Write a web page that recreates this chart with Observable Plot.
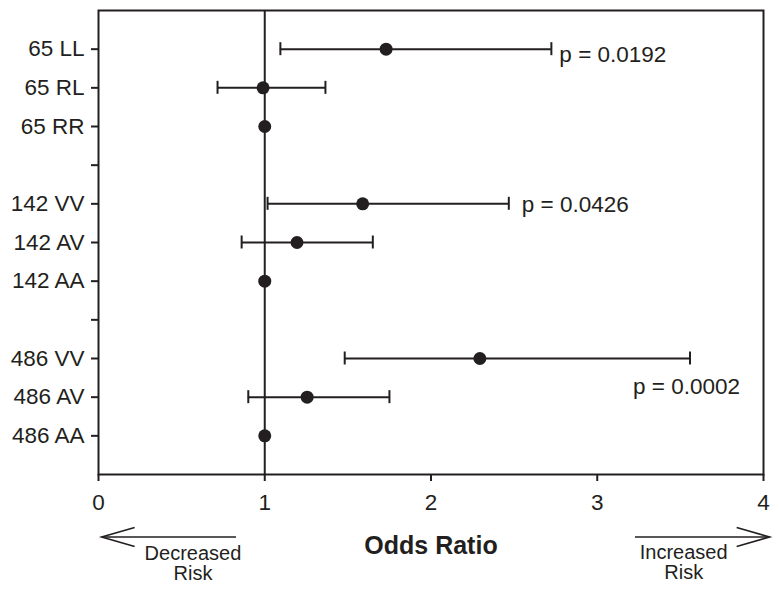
<!DOCTYPE html>
<html><head><meta charset="utf-8">
<script src="https://cdn.jsdelivr.net/npm/d3@7"></script>
<script src="https://cdn.jsdelivr.net/npm/@observablehq/plot@0.6"></script>
<style>body{margin:0;background:#fff} svg{display:block}</style>
</head><body><div id="chart"></div>
<script>
// ---- data ----
const rows = ["65 LL","65 RL","65 RR","gap1","142 VV","142 AV","142 AA","gap2","486 VV","486 AV","486 AA"];
const groups = ["65 LL","65 RL","65 RR","142 VV","142 AV","142 AA","486 VV","486 AV","486 AA"];
const oddsRatio = [1.730, 0.990, 1.0, 1.589, 1.194, 1.0, 2.294, 1.255, 1.0];
const ciLow     = [1.094, 0.716, null, 1.017, 0.861, null, 1.481, 0.901, null];
const ciHigh    = [2.724, 1.365, null, 2.468, 1.650, null, 3.558, 1.750, null];
const pRows   = ["65 LL","142 VV","486 VV"];
const pValues = ["0.0192","0.0426","0.0002"];
const xTicks  = [0, 1, 2, 3, 4];

// ---- layout / style ----
const font = "'Liberation Sans', Arial, Helvetica, sans-serif";
const ink = "#231f20";
const pOffsets = [{dx: 8, dy: 6}, {dx: 13, dy: 1}, {dx: -57, dy: 28}];
const annot = [
  {text: "Decreased\nRisk", x: 0.568, dy: 89},
  {text: "Increased\nRisk", x: 3.52, dy: 88}
];

const data = groups.map((g, i) => ({row: g, or: oddsRatio[i], lo: ciLow[i], hi: ciHigh[i]}));
const ci = data.filter(d => d.lo != null);
const pData = pRows.map((r, i) => {
  const d = data.find(e => e.row === r);
  return {row: r, x: d.hi, label: `p = ${pValues[i]}`, ...pOffsets[i]};
});

const marks = [
  Plot.axisX({ticks: xTicks, tickFormat: d3.format("d"), tickSize: 7, tickPadding: 13, strokeWidth: 2, label: null, fontSize: 22.5}),
  Plot.axisY({tickSize: 7, tickPadding: 7, strokeWidth: 2, label: null, fontSize: 22.5,
              tickFormat: d => d.startsWith("gap") ? "" : d}),
  Plot.ruleX([1], {stroke: ink, strokeWidth: 2}),
  Plot.ruleY(ci, {y: "row", x1: "lo", x2: "hi", stroke: ink, strokeWidth: 2}),
  Plot.tickX(ci, {x: "lo", y: "row", stroke: ink, strokeWidth: 2}),
  Plot.tickX(ci, {x: "hi", y: "row", stroke: ink, strokeWidth: 2}),
  Plot.dot(data, {x: "or", y: "row", r: 6.5, fill: ink}),
  ...pData.map(p => Plot.text([p], {x: "x", y: "row", text: "label", textAnchor: "start",
      dx: p.dx, dy: p.dy, fontSize: 22.5, fill: ink})),
  Plot.text(["Odds Ratio"], {frameAnchor: "bottom", lineAnchor: "middle", dy: 71, fontSize: 25, fontWeight: "bold", fill: ink}),
  ...annot.map(a => Plot.text([a], {x: "x", text: "text", frameAnchor: "bottom", lineAnchor: "middle", dy: a.dy,
      fontSize: 20, lineHeight: 1, fill: ink})),
  Plot.frame({stroke: ink, strokeWidth: 2})
];

const plot = Plot.plot({
  width: 779, height: 590,
  marginLeft: 98, marginRight: 16, marginTop: 10, marginBottom: 116,
  style: {fontFamily: font, color: ink, background: "#fff", overflow: "visible"},
  x: {domain: [0, 4]},
  y: {type: "band", domain: rows, paddingInner: 0.664, paddingOuter: 0.832, round: false},
  marks
});

// direction arrows below the axis
const xs = plot.scale("x");
const yArrow = 474 + 63;
const arrows = [{from: 0.83, to: 0.022}, {from: 3.23, to: 4.04}];
const g = d3.select(plot).append("g").attr("fill", "none").attr("stroke", ink).attr("stroke-width", 1.6);
for (const a of arrows) {
  const x1 = xs.apply(a.from), x2 = xs.apply(a.to);
  const s = Math.sign(x2 - x1);
  g.append("path").attr("d", `M${x1},${yArrow}H${x2}`);
  g.append("path").attr("d", `M${x2 - s * 33},${yArrow - 9.5}L${x2},${yArrow}L${x2 - s * 33},${yArrow + 9.5}`);
}

document.getElementById("chart").appendChild(plot);
</script>
</body></html>
